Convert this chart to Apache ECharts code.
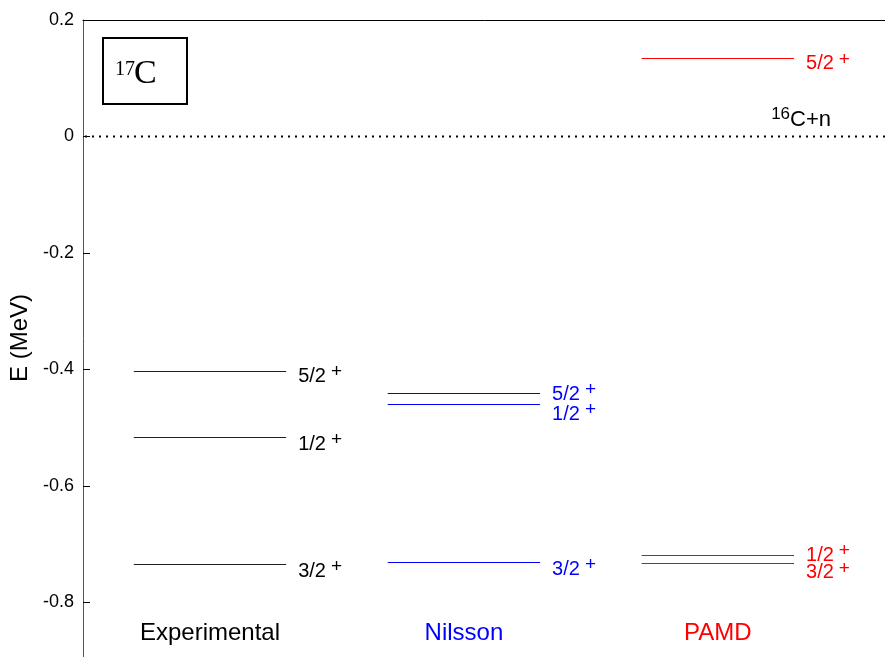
<!DOCTYPE html>
<html>
<head>
<meta charset="utf-8">
<script src="https://cdn.jsdelivr.net/npm/echarts@6/dist/echarts.min.js"></script>
<style>
html,body{margin:0;padding:0;background:#fff;}
#chart{width:885px;height:657px;}
</style>
</head>
<body>
<div id="chart"></div>
<script>
// ---- data ----
const groups = ['Experimental', 'Nilsson', 'PAMD'];
const groupPos = [1, 2, 3];
const expEnergy = [-0.734, -0.516, -0.402];
const expSpin = ['3/2', '1/2', '5/2'];
const nilEnergy = [-0.730, -0.460, -0.440];
const nilSpin = ['3/2', '1/2', '5/2'];
const pamdEnergy = [-0.732, -0.718, 0.134];
const pamdSpin = ['3/2', '1/2', '5/2'];
const parity = '+';
const thresholdEnergy = 0;
const thresholdSup = '16';
const thresholdName = 'C+n';
const nucleusSup = '17';
const nucleusName = 'C';
const yTicks = [-0.8, -0.6, -0.4, -0.2, 0, 0.2];

// ---- styling ----
const colors = ['#000000', '#0000ff', '#ff0000'];
const lineColors = ['#222222', '#0000ff', '#ff0000'];
const labelNudge = [[7, 7, 6], [7.5, 10, 1.5], [10, 0.5, 5.5]];
const halfWidth = 0.3;
const font = '"Liberation Sans", Arial, Helvetica, sans-serif';

const energies = [expEnergy, nilEnergy, pamdEnergy];
const spins = [expSpin, nilSpin, pamdSpin];

function makeRender(gi) {
  return function (params, api) {
    const x = api.value(0), e = api.value(1), k = api.value(2);
    const a = api.coord([x - halfWidth, e]);
    const b = api.coord([x + halfWidth, e]);
    const y = Math.round(a[1]) + 0.5;
    const col = colors[gi];
    const children = [
      { type: 'line', shape: { x1: a[0], y1: y, x2: b[0], y2: y },
        style: { stroke: lineColors[gi], lineWidth: 1 } },
      { type: 'text', x: b[0] + 12, y: a[1] + labelNudge[gi][k],
        style: {
          text: '{b|' + spins[gi][k] + '}{s|' + parity + '}',
          align: 'left', verticalAlign: 'middle', fill: col,
          rich: {
            b: { fontSize: 20, fontFamily: font, fill: col, lineHeight: 28, verticalAlign: 'middle' },
            s: { fontSize: 19, fontFamily: font, fill: col, lineHeight: 28, verticalAlign: 'top', padding: [0, 0, 0, 5] }
          }
        } }
    ];
    if (params.dataIndex === 0) {
      const c = api.coord([x, yTicks[0]]);
      children.push({ type: 'text', x: c[0], y: c[1] + 31,
        style: { text: groups[gi], align: 'center', verticalAlign: 'middle',
          fill: col, fontSize: 24, fontFamily: font } });
    }
    return { type: 'group', children: children };
  };
}

const series = groups.map(function (g, gi) {
  return {
    type: 'custom', name: g, clip: false,
    renderItem: makeRender(gi),
    data: energies[gi].map(function (e, k) { return [groupPos[gi], e, k]; })
  };
});

// threshold line + label
series.push({
  type: 'custom', name: 'threshold', clip: false,
  renderItem: function (params, api) {
    const e = api.value(0);
    const a = api.coord([0.5, e]);
    const b = api.coord([3.8, e]);
    const lbl = api.coord([groupPos[2] + halfWidth, e]);
    return { type: 'group', children: [
      { type: 'line', shape: { x1: a[0] + 2, y1: a[1], x2: b[0], y2: a[1] },
        style: { stroke: '#000', lineWidth: 2, lineDash: [2, 5] } },
      { type: 'text', x: lbl[0] + 37, y: a[1] - 17,
        style: { text: '{s|' + thresholdSup + '}{b|' + thresholdName + '}',
          align: 'right', verticalAlign: 'middle', fill: '#000',
          rich: {
            b: { fontSize: 22, fontFamily: font, fill: '#000', lineHeight: 28, verticalAlign: 'middle' },
            s: { fontSize: 17, fontFamily: font, fill: '#000', lineHeight: 28, verticalAlign: 'top' }
          } } }
    ] };
  },
  data: [[thresholdEnergy]],
  encode: { y: 0 }
});

const chart = echarts.init(document.getElementById('chart'), null, { renderer: 'canvas' });
chart.setOption({
  animation: false,
  backgroundColor: '#fff',
  grid: { left: 83, top: 20, width: 838, height: 699, containLabel: false, outerBoundsMode: 'none' },
  xAxis: {
    type: 'value', min: 0.5, max: 3.8, position: 'top',
    axisLine: { show: true, onZero: false, lineStyle: { color: '#000', width: 1 } },
    axisTick: { show: false }, axisLabel: { show: false }, splitLine: { show: false }
  },
  yAxis: {
    type: 'value', min: -1.0, max: yTicks[yTicks.length - 1], interval: 0.2,
    axisLine: { show: true, onZero: false, lineStyle: { color: '#555', width: 1 } },
    axisTick: { show: true, inside: true, length: 7, lineStyle: { color: '#000' } },
    axisLabel: {
      color: '#000', fontSize: 18, fontFamily: font, margin: 9,
      formatter: function (v) { const r = Math.round(v * 10) / 10; return r === 0 ? '0' : String(r); }
    },
    splitLine: { show: false }
  },
  graphic: [
    { type: 'text', x: 20, y: 338, rotation: Math.PI / 2,
      style: { text: 'E (MeV)', align: 'center', verticalAlign: 'middle', fill: '#000', fontSize: 24, fontFamily: font } },
    { type: 'rect', shape: { x: 103, y: 38, width: 84, height: 66 },
      style: { fill: 'none', stroke: '#000', lineWidth: 2 } },
    { type: 'text', x: 115, y: 70,
      style: { text: nucleusSup, align: 'left', verticalAlign: 'middle', fill: '#000', fontSize: 20, fontFamily: '"Liberation Serif", "Times New Roman", serif' } },
    { type: 'text', x: 134, y: 74,
      style: { text: nucleusName, align: 'left', verticalAlign: 'middle', fill: '#000', fontSize: 34, fontFamily: '"Liberation Serif", "Times New Roman", serif' } }
  ],
  series: series
});
</script>
</body>
</html>
